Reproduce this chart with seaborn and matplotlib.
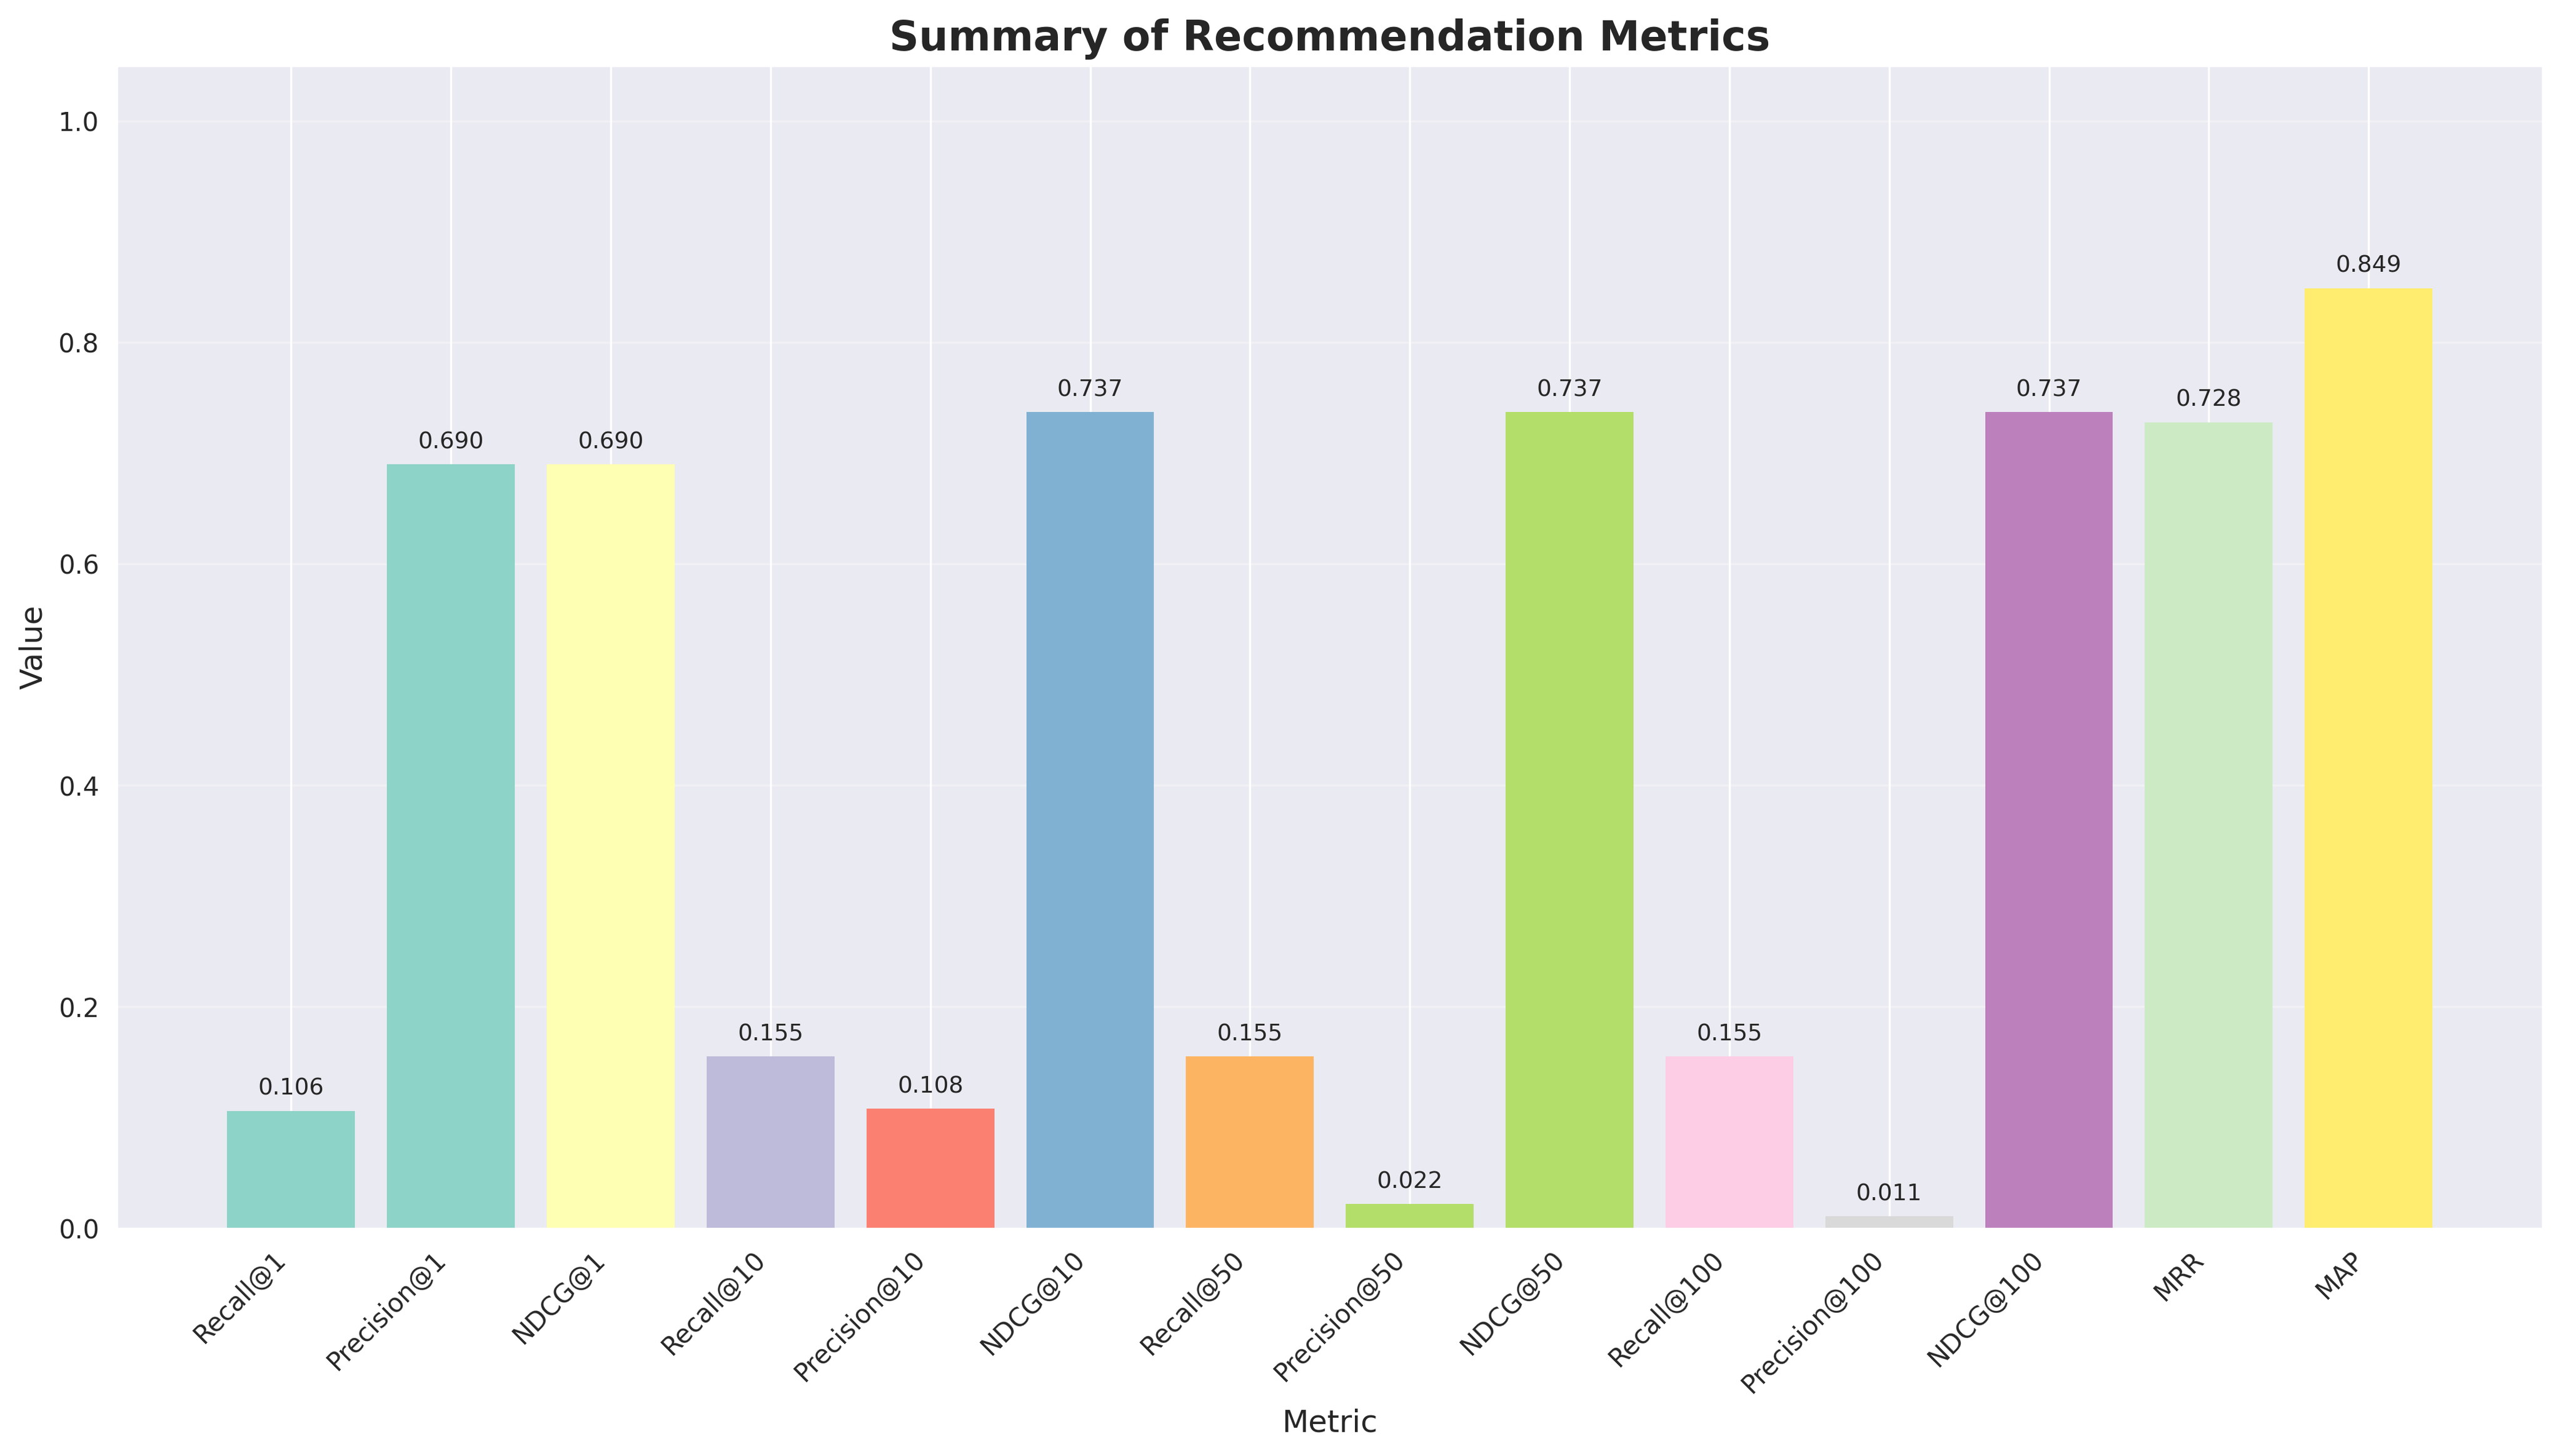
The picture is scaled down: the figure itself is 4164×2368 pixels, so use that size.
import matplotlib
matplotlib.use('Agg')
import matplotlib.pyplot as plt
import seaborn as sns

metrics = ['Recall@1', 'Precision@1', 'NDCG@1', 'Recall@10', 'Precision@10', 'NDCG@10',
           'Recall@50', 'Precision@50', 'NDCG@50', 'Recall@100', 'Precision@100',
           'NDCG@100', 'MRR', 'MAP']
values = [0.106, 0.690, 0.690, 0.155, 0.108, 0.737, 0.155, 0.022, 0.737, 0.155,
          0.011, 0.737, 0.728, 0.849]
bar_colors = ['#8dd3c7', '#8dd3c7', '#ffffb3', '#bebada', '#fb8072', '#80b1d3', '#fdb462',
              '#b3de69', '#b3de69', '#fccde5', '#d9d9d9', '#bc80bd', '#ccebc5', '#ffed6f']

sns.set_style('darkgrid')
fig, ax = plt.subplots(figsize=(14, 8))

bars = ax.bar(metrics, values, color=bar_colors, linewidth=0)

for bar, v in zip(bars, values):
    ax.text(bar.get_x() + bar.get_width() / 2, v + 0.01, f'{v:.3f}',
            ha='center', va='bottom', fontsize=9)

ax.set_title('Summary of Recommendation Metrics', fontsize=16, fontweight='bold')
ax.set_xlabel('Metric', fontsize=12)
ax.set_ylabel('Value', fontsize=12)
ax.set_ylim(0, 1.05)
ax.grid(axis='y', alpha=0.3)
plt.xticks(rotation=45, ha='right')

plt.tight_layout()
plt.savefig('out.png', dpi=300, bbox_inches='tight')
plt.close()
